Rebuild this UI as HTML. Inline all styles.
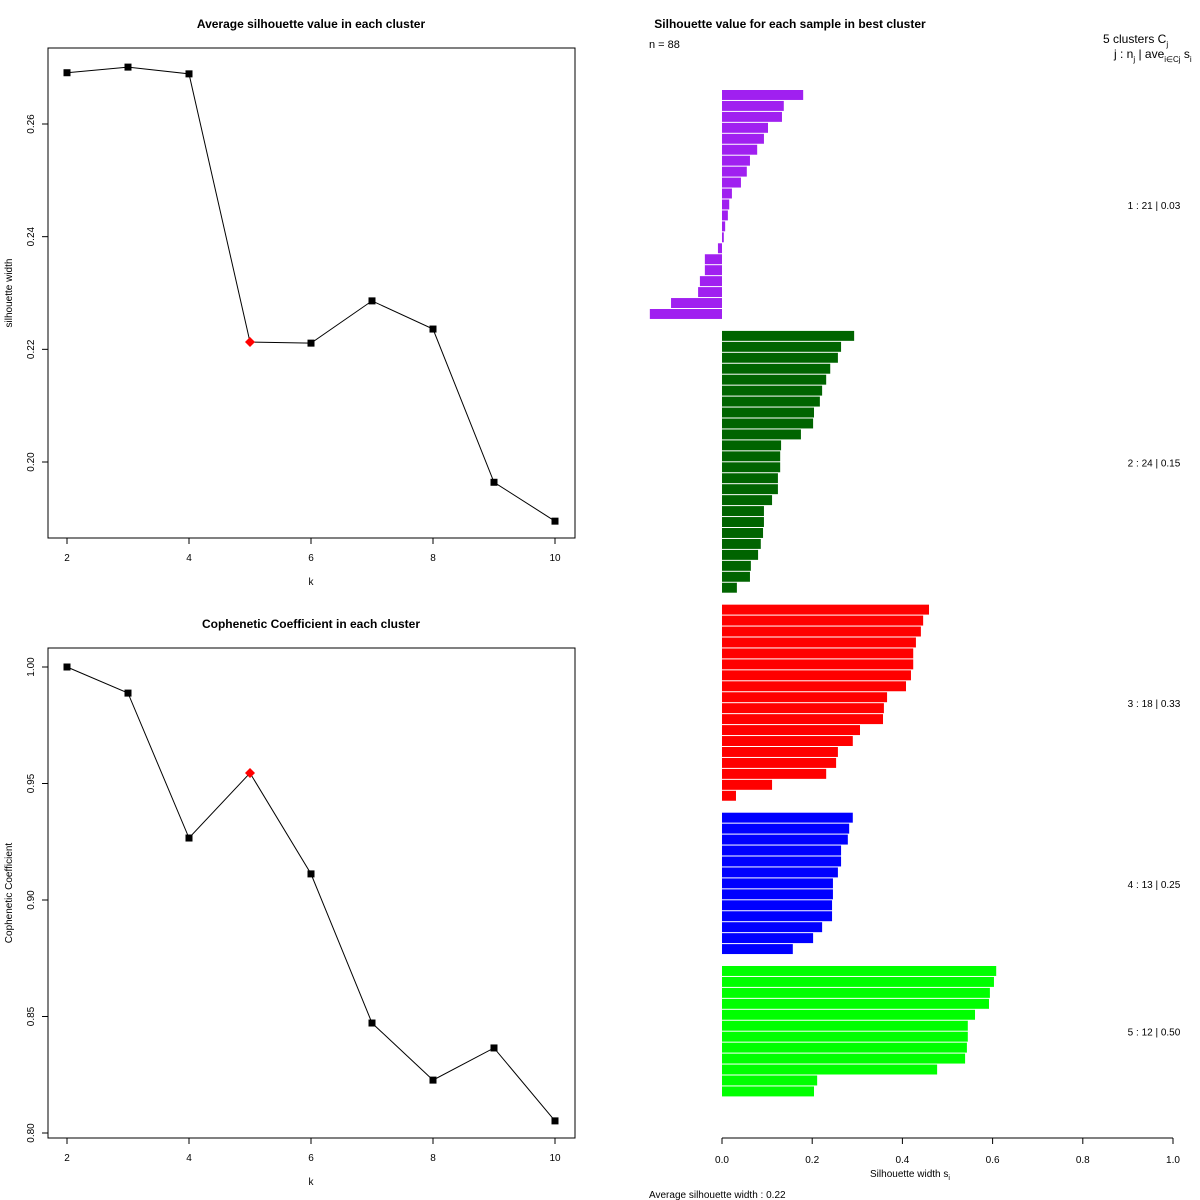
<!DOCTYPE html>
<html><head><meta charset="utf-8"><style>
html,body{margin:0;padding:0;background:#fff;}
svg{display:block;font-family:"Liberation Sans",sans-serif;}
</style></head><body>
<svg id="svg" width="1200" height="1200" viewBox="0 0 1200 1200"></svg>
<script>
const kValues=[2,3,4,5,6,7,8,9,10];
const silAvg=[0.2691,0.2701,0.2689,0.2213,0.2211,0.2286,0.2236,0.1964,0.1895];
const coph=[1.0,0.9888,0.9266,0.9545,0.9112,0.8472,0.8227,0.8365,0.8052];
const bestK=5;
const silTicks=[0.20,0.22,0.24,0.26];
const cophTicks=[0.80,0.85,0.90,0.95,1.00];
const kTicks=[2,4,6,8,10];
const cluster1=[0.18,0.137,0.133,0.102,0.093,0.078,0.062,0.055,0.042,0.022,0.016,0.013,0.007,0.004,-0.009,-0.038,-0.038,-0.049,-0.053,-0.113,-0.16];
const cluster2=[0.293,0.264,0.257,0.240,0.231,0.222,0.217,0.204,0.202,0.175,0.131,0.129,0.129,0.124,0.124,0.111,0.093,0.093,0.091,0.086,0.080,0.064,0.062,0.033];
const cluster3=[0.459,0.446,0.441,0.430,0.424,0.424,0.419,0.408,0.366,0.359,0.357,0.306,0.290,0.257,0.253,0.231,0.111,0.031];
const cluster4=[0.290,0.282,0.279,0.264,0.264,0.257,0.246,0.246,0.244,0.244,0.222,0.202,0.157];
const cluster5=[0.608,0.603,0.594,0.592,0.561,0.545,0.545,0.543,0.539,0.477,0.211,0.204];
const clusterLabels=["1 :  21  |  0.03","2 :  24  |  0.15","3 :  18  |  0.33","4 :  13  |  0.25","5 :  12  |  0.50"];
const silXTicks=[0,0.2,0.4,0.6,0.8,1.0];

const NS="http://www.w3.org/2000/svg";
const svg=document.getElementById('svg');
function mk(tag,attrs,parent){const e=document.createElementNS(NS,tag);for(const k in attrs)e.setAttribute(k,attrs[k]);(parent||svg).appendChild(e);return e;}
function txt(x,y,s,attrs){const e=mk('text',Object.assign({x:x,y:y,'font-size':11,fill:'#000'},attrs||{}));e.textContent=s;return e;}

function linePanel(name,top,vals,ticks,tickFmt,title,ylab,yTop,yBot,vTop,vBot){
  const g=mk('g',{});
  
  
  const L=48,R=575,T=top,B=top+490;
  const xs=k=>67+(k-2)*61;
  const ys=v=>yTop+(vTop-v)*(yBot-yTop)/(vTop-vBot);
  const box=mk('rect',{x:L,y:T,width:R-L,height:B-T,fill:'none',stroke:'#000','stroke-width':1},g);
  
  
  const t=txt(311,T-20,title,{'font-weight':'bold','font-size':12,'text-anchor':'middle'});g.appendChild(t);
  
  
  ticks.forEach(v=>{const y=ys(v);mk('line',{x1:L-6,x2:L,y1:y,y2:y,stroke:'#000'},g);
    const lb=txt(L-14,y,tickFmt(v),{'font-size':10,'text-anchor':'middle',transform:`rotate(-90 ${L-14} ${y})`});g.appendChild(lb);
    
    });
  kTicks.forEach(k=>{const x=xs(k);mk('line',{x1:x,x2:x,y1:B,y2:B+6,stroke:'#000'},g);
    const lb=txt(x,B+23,String(k),{'font-size':10,'text-anchor':'middle'});g.appendChild(lb);
    
    });
  const yl=txt(12,(T+B)/2,ylab,{'font-size':10,'text-anchor':'middle',transform:`rotate(-90 12 ${(T+B)/2})`});g.appendChild(yl);
  
  
  const xl=txt(311,B+47,'k',{'font-size':10,'text-anchor':'middle'});g.appendChild(xl);
  
  
  const pts=vals.map((v,i)=>xs(kValues[i])+','+ys(v)).join(' ');
  const pl=mk('polyline',{points:pts,fill:'none',stroke:'#000','stroke-width':1},g);
  
  
  vals.forEach((v,i)=>{const x=xs(kValues[i]),y=ys(v);let m;
    if(kValues[i]===bestK){m=mk('polygon',{points:`${x},${y-5} ${x+5},${y} ${x},${y+5} ${x-5},${y}`,fill:'#f00'},g);}
    else{m=mk('rect',{x:x-3.5,y:y-3.5,width:7,height:7,fill:'#000'},g);}
    
    });
}
linePanel('silhouette-panel',48,silAvg,silTicks,v=>v.toFixed(2),'Average silhouette value in each cluster','silhouette width',124,462,0.26,0.20);
linePanel('cophenetic-panel',648,coph,cophTicks,v=>v.toFixed(2),'Cophenetic Coefficient in each cluster','Cophenetic Coefficient',667,1133,1.0,0.80);

// silhouette bar plot
const sg=mk('g',{});


const x0=722,pxU=451,slot=10.95,yStart=90;
const sx=v=>x0+v*pxU;
const clusters=[cluster1,cluster2,cluster3,cluster4,cluster5];
const colors=['#a020f0','#006400','#ff0000','#0000ff','#00ff00'];
let idx=0;
clusters.forEach((c,ci)=>{
  const startY=yStart+idx*slot;
  c.forEach((v,j)=>{const y=yStart+idx*slot;const a=sx(0),b=sx(v);
    const r=mk('rect',{x:Math.min(a,b),y:y,width:Math.max(Math.abs(b-a),0.5),height:slot-1,fill:colors[ci]},sg);
    
    
    idx++;});
  const midY=(startY+yStart+idx*slot)/2;
  const lb=txt(1154,midY+4,clusterLabels[ci],{'font-size':10,'text-anchor':'middle'});sg.appendChild(lb);
  
  
  idx++;
});
mk('line',{x1:sx(0),x2:sx(1),y1:1138,y2:1138,stroke:'#000'},sg);
silXTicks.forEach(v=>{const x=sx(v);mk('line',{x1:x,x2:x,y1:1138,y2:1144,stroke:'#000'},sg);
  const lb=txt(x,1163,v.toFixed(1),{'font-size':10,'text-anchor':'middle'});sg.appendChild(lb);
  
  });
let e;
e=txt(910,1177,'Silhouette width s',{'font-size':10,'text-anchor':'middle'});


const sub=mk('tspan',{'font-size':7,dy:3},e);sub.textContent='i';
e=txt(649,1198,'Average silhouette width :  0.22',{'font-size':10});


e=txt(790,28,'Silhouette value for each sample in best cluster',{'font-weight':'bold','font-size':12,'text-anchor':'middle'});


e=txt(649,48,'n = 88',{'font-size':11});


e=txt(1103,43,'5  clusters  C',{'font-size':12});


const s1=mk('tspan',{'font-size':8,dy:4},e);s1.textContent='j';
e=txt(1114,58,'j :  n',{'font-size':12});


const s2=mk('tspan',{'font-size':8,dy:4},e);s2.textContent='j';
const s3=mk('tspan',{'font-size':12,dy:-4},e);s3.textContent=' | ave';
const s4=mk('tspan',{'font-size':8,dy:4},e);s4.textContent='i∈Cj';
const s5=mk('tspan',{'font-size':12,dy:-4},e);s5.textContent=' s';
const s6=mk('tspan',{'font-size':8,dy:4},e);s6.textContent='i';
</script>
</body></html>
